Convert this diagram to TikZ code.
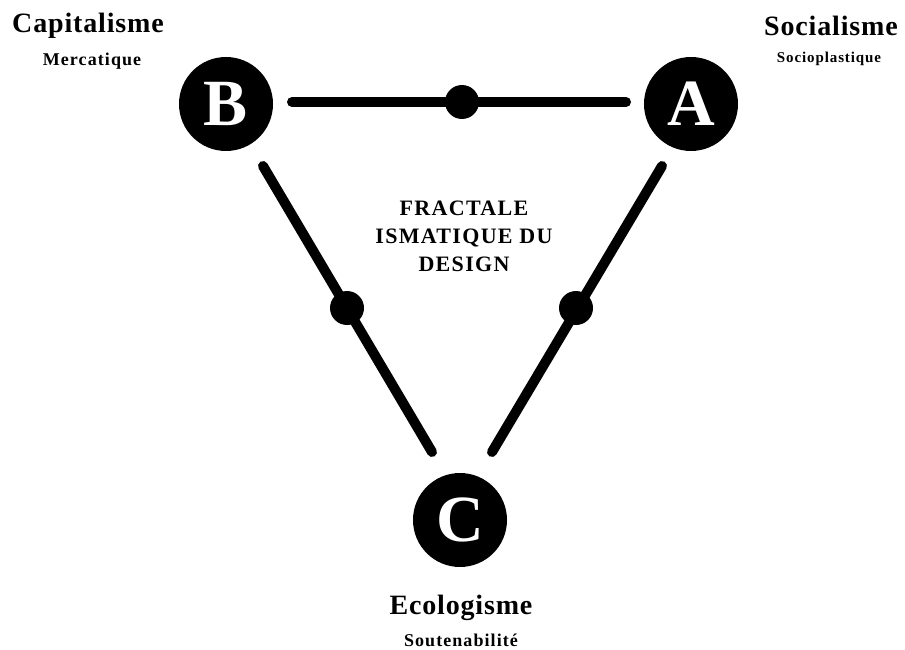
\documentclass[tikz,border=0pt]{standalone}
\usepackage{fontspec}
\setmainfont{Liberation Serif}
\newfontfamily\spacedfont[LetterSpace=6]{Liberation Serif}
\newfontfamily\widefont[LetterSpace=3]{Liberation Serif}
\newfontfamily\subfont[LetterSpace=6]{Liberation Serif}
\begin{document}
\begin{tikzpicture}[x=1pt,y=-1pt,
  bigcirc/.style={circle,fill=black,minimum size=94pt,inner sep=0pt,text=white,font=\bfseries\fontsize{66}{66}\selectfont},
  smalldot/.style={circle,fill=black,minimum size=34pt,inner sep=0pt},
  edge/.style={line width=10pt,line cap=round},
  title/.style={font=\widefont\bfseries\fontsize{28}{28}\selectfont},
  sub/.style={font=\subfont\bfseries\fontsize{18}{18}\selectfont},
  subsmall/.style={font=\subfont\bfseries\fontsize{15}{15}\selectfont}]
\useasboundingbox (0,0) rectangle (905,650);
\node[bigcirc] (B) at (226,104) {B};
\node[bigcirc] (A) at (691,104) {A};
\node[bigcirc] (C) at (460,520) {C};
\coordinate (t1) at (292,102);
\coordinate (t2) at (626,102);
\coordinate (l1) at (263,166);
\coordinate (l2) at (432,452);
\coordinate (r1) at (662,166);
\coordinate (r2) at (492,452);
\draw[edge] (t1) -- (t2);
\draw[edge] (l1) -- (l2);
\draw[edge] (r1) -- (r2);
\node[smalldot] (d1) at (462,102) {};
\node[smalldot] (d2) at (347,308) {};
\node[smalldot] (d3) at (576,308) {};
\node[title] (capt) at (88,26) {Capitalisme};
\node[sub] (merc) at (92,61) {Mercatique};
\node[title] (soct) at (831,26) {Socialisme};
\node[subsmall] (socs) at (829,59) {Socioplastique};
\node[title] (ecot) at (461,608) {Ecologisme};
\node[sub] (ecos) at (461,640) {Soutenabilité};
\node[align=center,font=\spacedfont\bfseries\fontsize{22}{28}\selectfont] (mid) at (464,236) {FRACTALE\\ISMATIQUE DU\\DESIGN};
\end{tikzpicture}
\end{document}
